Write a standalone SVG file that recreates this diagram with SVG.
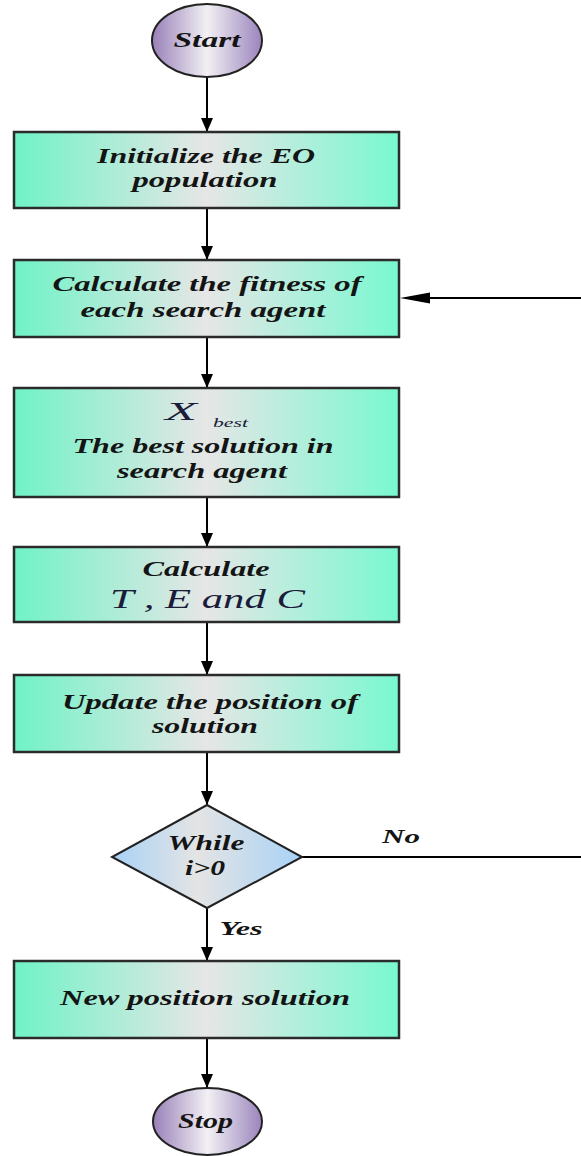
<svg xmlns="http://www.w3.org/2000/svg" width="581" height="1156" viewBox="0 0 581 1156">
<defs>
<linearGradient id="gBox" x1="0" y1="0" x2="1" y2="0">
<stop offset="0" stop-color="#6ff3c6"/>
<stop offset="0.5" stop-color="#e6e6e6"/>
<stop offset="1" stop-color="#78f8d0"/>
</linearGradient>
<linearGradient id="gEll" x1="0" y1="0" x2="1" y2="0">
<stop offset="0" stop-color="#9880b8"/>
<stop offset="0.5" stop-color="#f2f0f4"/>
<stop offset="1" stop-color="#9a84bc"/>
</linearGradient>
<linearGradient id="gDia" x1="0" y1="0" x2="1" y2="0">
<stop offset="0" stop-color="#a8d2f6"/>
<stop offset="0.45" stop-color="#e4e4e4"/>
<stop offset="1" stop-color="#a8d2f6"/>
</linearGradient>
<marker id="ah" viewBox="0 0 14 12" refX="14" refY="6" markerWidth="14" markerHeight="12" markerUnits="userSpaceOnUse" orient="auto">
<path d="M0,0 L14,6 L0,12 Z" fill="#000"/>
</marker>
</defs>
<style>
.box{fill:url(#gBox);stroke:#2b2b2b;stroke-width:2.5}
.ell{fill:url(#gEll);stroke:#222;stroke-width:2}
.dia{fill:url(#gDia);stroke:#222;stroke-width:2}
.t{font-family:"Liberation Serif","Times New Roman",serif;font-weight:bold;font-style:italic;font-size:21px;fill:#141414;text-anchor:middle}
.m{font-family:"Liberation Serif","Times New Roman",serif;font-style:italic;fill:#1b1b3a}
.c{stroke:#000;stroke-width:2;fill:none}
</style>
<g id="connectors">
<line class="c" x1="207" y1="77" x2="207" y2="132" marker-end="url(#ah)"/>
<line class="c" x1="207" y1="208" x2="207" y2="260" marker-end="url(#ah)"/>
<line class="c" x1="207" y1="337" x2="207" y2="388" marker-end="url(#ah)"/>
<line class="c" x1="207" y1="497" x2="207" y2="547" marker-end="url(#ah)"/>
<line class="c" x1="207" y1="622" x2="207" y2="675" marker-end="url(#ah)"/>
<line class="c" x1="207" y1="752" x2="207" y2="805" marker-end="url(#ah)"/>
<line class="c" x1="207" y1="908" x2="207" y2="961" marker-end="url(#ah)"/>
<line class="c" x1="207" y1="1038" x2="207" y2="1088" marker-end="url(#ah)"/>
<line class="c" x1="302" y1="857" x2="581" y2="857"/>
<line class="c" x1="581" y1="298" x2="429" y2="298"/>
<path d="M400,298 L430,292.5 L430,303.5 Z" fill="#000"/>
<text class="t" x="401" y="843" textLength="38" lengthAdjust="spacingAndGlyphs" style="font-size:19px">No</text>
<text class="t" x="241" y="935" textLength="43" lengthAdjust="spacingAndGlyphs" style="font-size:19px">Yes</text>
</g>
<g id="start">
<ellipse class="ell" cx="207" cy="40.5" rx="55" ry="36.5"/>
<text class="t" x="207" y="47" textLength="67" lengthAdjust="spacingAndGlyphs" style="font-size:20px">Start</text>
</g>
<g id="init">
<rect class="box" x="14" y="132" width="385" height="76"/>
<text class="t" x="206" y="163" textLength="218" lengthAdjust="spacingAndGlyphs">Initialize the EO</text>
<text class="t" x="205" y="187" textLength="145" lengthAdjust="spacingAndGlyphs">population</text>
</g>
<g id="fitness">
<rect class="box" x="14" y="260" width="385" height="77"/>
<text class="t" x="207" y="291" textLength="309" lengthAdjust="spacingAndGlyphs">Calculate the fitness of</text>
<text class="t" x="203" y="317" textLength="245" lengthAdjust="spacingAndGlyphs">each search agent</text>
</g>
<g id="xbest">
<rect class="box" x="14" y="388" width="385" height="109"/>
<text class="m" x="165" y="420" textLength="32" lengthAdjust="spacingAndGlyphs" style="font-size:26px">X</text>
<text class="m" x="213" y="427" textLength="35" lengthAdjust="spacingAndGlyphs" style="font-size:13px">best</text>
<text class="t" x="203" y="453" textLength="261" lengthAdjust="spacingAndGlyphs">The best solution in</text>
<text class="t" x="202" y="478" textLength="170" lengthAdjust="spacingAndGlyphs">search agent</text>
</g>
<g id="calc">
<rect class="box" x="14" y="547" width="385" height="75"/>
<text class="t" x="206" y="576" textLength="127" lengthAdjust="spacingAndGlyphs">Calculate</text>
<text class="m" x="110" y="608" textLength="195" lengthAdjust="spacingAndGlyphs" style="font-size:28px">T , E and C</text>
</g>
<g id="update">
<rect class="box" x="14" y="675" width="385" height="77"/>
<text class="t" x="210" y="709" textLength="296" lengthAdjust="spacingAndGlyphs">Update the position of</text>
<text class="t" x="205" y="733" textLength="106" lengthAdjust="spacingAndGlyphs">solution</text>
</g>
<g id="while">
<polygon class="dia" points="207,805 302,857 207,908 112,857"/>
<text class="t" x="206" y="850" textLength="77" lengthAdjust="spacingAndGlyphs">While</text>
<text class="t" x="205" y="875" textLength="40" lengthAdjust="spacingAndGlyphs">i&gt;0</text>
</g>
<g id="newpos">
<rect class="box" x="14" y="961" width="385" height="77"/>
<text class="t" x="205" y="1005" textLength="290" lengthAdjust="spacingAndGlyphs">New position solution</text>
</g>
<g id="stop">
<ellipse class="ell" cx="207.5" cy="1121.5" rx="54.5" ry="33.5"/>
<text class="t" x="205.5" y="1128" textLength="55" lengthAdjust="spacingAndGlyphs" style="font-size:20px">Stop</text>
</g>
</svg>
